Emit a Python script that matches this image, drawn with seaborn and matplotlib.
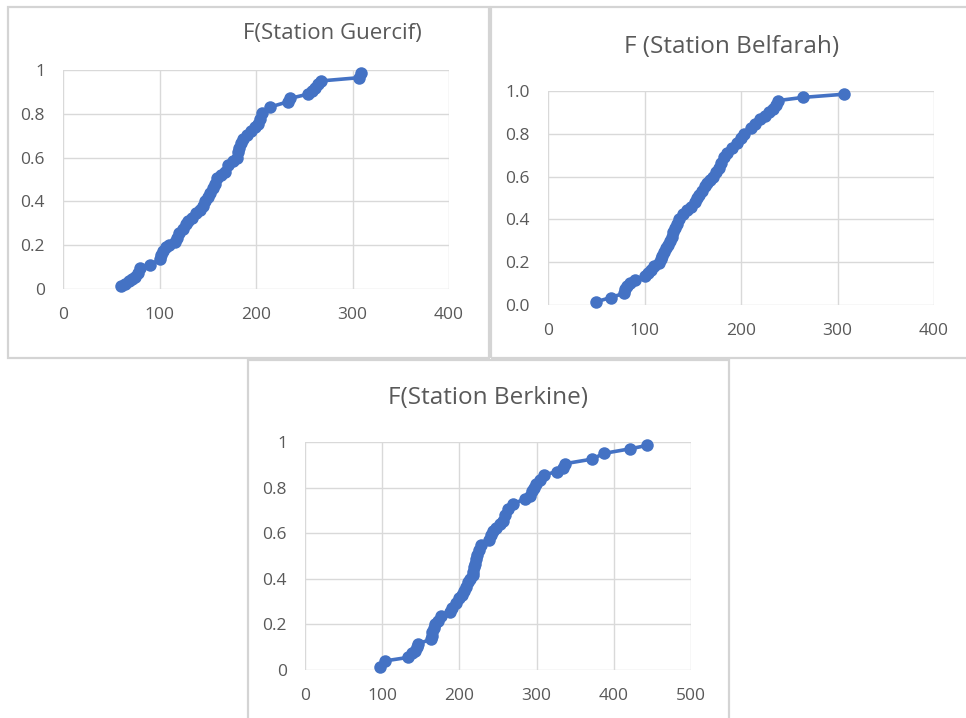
import matplotlib
matplotlib.use('Agg')
import matplotlib.pyplot as plt
import seaborn as sns
import pandas as pd
from matplotlib.patches import Rectangle

# Station Guercif
guercif_x = [60, 64, 68, 72, 75, 78, 80, 90, 100, 102, 104, 107, 110, 116, 118, 120, 124, 127, 130, 134,
             138, 142, 145, 147, 150, 152, 155, 157, 160, 164, 168, 171, 176, 180, 181, 182, 184, 187, 191, 195,
             199, 202, 204, 206, 214, 233, 235, 254, 258, 261, 264, 267, 307, 309]
guercif_f = [0.015, 0.025, 0.035, 0.045, 0.055, 0.075, 0.095, 0.11, 0.135, 0.155, 0.175, 0.19, 0.2, 0.215,
             0.235, 0.255, 0.275, 0.295, 0.31, 0.325, 0.345, 0.36, 0.38, 0.40, 0.42, 0.44, 0.46, 0.48, 0.505,
             0.52, 0.535, 0.565, 0.585, 0.60, 0.625, 0.645, 0.665, 0.685, 0.705, 0.72, 0.74, 0.755, 0.775,
             0.805, 0.83, 0.855, 0.87, 0.89, 0.905, 0.92, 0.935, 0.95, 0.965, 0.985]

# Station Belfarah
belfarah_x = [50, 65, 79, 80, 82, 85, 90, 100, 104, 107, 110, 115, 117, 118, 120, 122, 124, 126, 128, 130,
              132, 134, 136, 140, 144, 148, 152, 154, 156, 160, 163, 165, 168, 171, 174, 177, 179, 182, 186, 191,
              196, 200, 203, 210, 215, 220, 225, 229, 233, 236, 238, 264, 307]
belfarah_f = [0.015, 0.035, 0.055, 0.075, 0.09, 0.105, 0.115, 0.135, 0.15, 0.165, 0.18, 0.195, 0.215, 0.23,
              0.25, 0.265, 0.28, 0.3, 0.32, 0.34, 0.36, 0.38, 0.4, 0.425, 0.445, 0.46, 0.48, 0.5, 0.515, 0.535,
              0.555, 0.57, 0.585, 0.6, 0.62, 0.64, 0.665, 0.69, 0.71, 0.735, 0.755, 0.78, 0.8, 0.825, 0.845,
              0.87, 0.885, 0.9, 0.915, 0.935, 0.955, 0.97, 0.985]

# Station Berkine
berkine_x = [97, 104, 133, 138, 142, 145, 147, 163, 164, 165, 167, 169, 172, 176, 188, 190, 196, 199, 203, 206,
             208, 211, 214, 217, 218, 219, 220, 222, 223, 225, 228, 238, 241, 244, 247, 252, 257, 259, 263, 270,
             285, 292, 294, 296, 299, 304, 309, 326, 334, 337, 372, 387, 421, 443]
berkine_f = [0.015, 0.04, 0.055, 0.075, 0.085, 0.1, 0.115, 0.135, 0.15, 0.165, 0.185, 0.2, 0.215, 0.235,
             0.255, 0.27, 0.295, 0.315, 0.33, 0.345, 0.365, 0.385, 0.4, 0.415, 0.43, 0.45, 0.465, 0.485, 0.505,
             0.525, 0.55, 0.57, 0.59, 0.61, 0.625, 0.64, 0.655, 0.68, 0.705, 0.73, 0.75, 0.765, 0.785, 0.8,
             0.815, 0.835, 0.855, 0.87, 0.885, 0.905, 0.925, 0.95, 0.97, 0.985]

sns.set_theme(style='white')
plt.rcParams['font.family'] = ['Open Sans', 'DejaVu Sans']

W, H = 966, 718
fig = plt.figure(figsize=(W / 100, H / 100), dpi=100)
fig.patch.set_facecolor('white')

bleu = '#4472C4'
gris = '#595959'
grille = '#d9d9d9'


def px_box(l, t, r, b):
    return [l / W, (H - b) / H, (r - l) / W, (b - t) / H]


# cadres des graphiques
for (l, t, r, b) in [(8, 7, 489, 358), (491, 7, 968, 358), (248, 360, 729, 720)]:
    fig.patches.append(Rectangle((l / W, (H - b) / H), (r - l) / W, (b - t) / H,
                                 transform=fig.transFigure, fill=False,
                                 edgecolor='#d4d4d4', linewidth=1.6))

panneaux = [
    (guercif_x, guercif_f, px_box(63, 70, 449, 289), 400, [0, 100, 200, 300, 400], '%g',
     'F(Station Guercif)', (332, 33), 16),
    (belfarah_x, belfarah_f, px_box(548, 91, 934, 305), 400, [0, 100, 200, 300, 400], '%.1f',
     'F (Station Belfarah)', (732, 47), 17.5),
    (berkine_x, berkine_f, px_box(305, 442, 691, 670), 500, [0, 100, 200, 300, 400, 500], '%g',
     'F(Station Berkine)', (488, 398), 17.5),
]

for xs, fs, box, xmax, xt, fmt, titre, (tx, ty), tsize in panneaux:
    ax = fig.add_axes(box)
    df = pd.DataFrame({'x': xs, 'F': fs})
    sns.lineplot(data=df, x='x', y='F', ax=ax, color=bleu, linewidth=2.6,
                 marker='o', markersize=9, markeredgewidth=0, sort=False, estimator=None)
    ax.set_xlim(0, xmax)
    ax.set_ylim(0, 1)
    ax.set_xticks(xt)
    ax.set_yticks([0, 0.2, 0.4, 0.6, 0.8, 1.0])
    ax.set_yticklabels([fmt % v for v in [0, 0.2, 0.4, 0.6, 0.8, 1.0]])
    ax.set_xlabel('')
    ax.set_ylabel('')
    ax.grid(True, color=grille, linewidth=1.0)
    ax.set_axisbelow(True)
    for s in ax.spines.values():
        s.set_visible(False)
    ax.tick_params(axis='both', length=0, labelsize=12.5, labelcolor=gris)
    ax.tick_params(axis='x', pad=13)
    ax.tick_params(axis='y', pad=13)
    for ln in ax.lines:
        ln.set_clip_on(False)
    fig.text(tx / W, (H - ty) / H, titre, ha='center', va='center',
             fontsize=tsize, color=gris)

plt.savefig('out.png', dpi=100)
